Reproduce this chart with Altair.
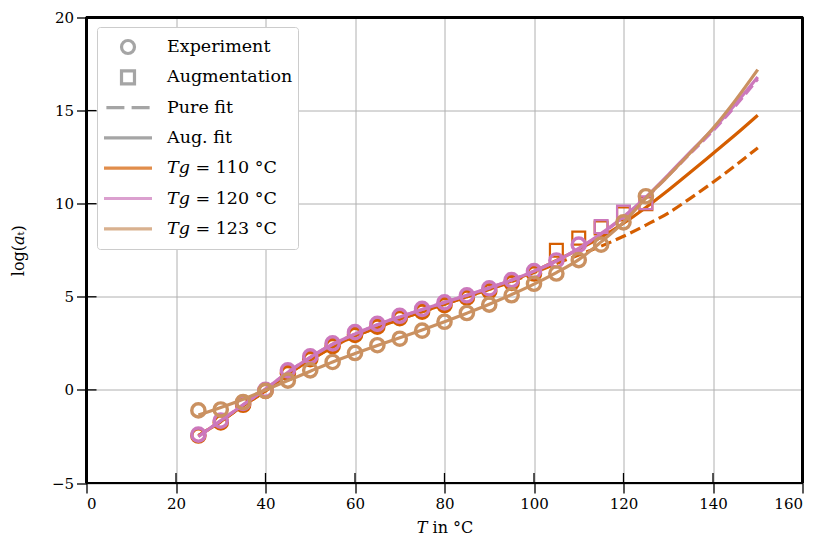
import altair as alt
import pandas as pd

# ---------------- data ----------------
T_exp_110 = [25, 30, 35, 40, 45, 50, 55, 60, 65, 70, 75, 80, 85, 90, 95, 100]
exp_110 = [-2.45, -1.75, -0.8, -0.05, 0.9, 1.65, 2.35, 2.95, 3.4, 3.85, 4.2, 4.55, 4.95, 5.3, 5.75, 6.25]
T_aug_110 = [105, 110, 115, 120, 125]
aug_110 = [7.5, 8.15, 8.7, 9.45, 10.0]

T_exp_120 = [25, 30, 35, 40, 45, 50, 55, 60, 65, 70, 75, 80, 85, 90, 95, 100, 105, 110]
exp_120 = [-2.4, -1.65, -0.7, 0.0, 1.05, 1.8, 2.5, 3.1, 3.55, 3.98, 4.35, 4.7, 5.08, 5.45, 5.9, 6.38, 6.95, 7.8]
T_aug_120 = [115, 120, 125]
aug_120 = [8.77, 9.55, 10.05]

T_exp_123 = [25, 30, 35, 40, 45, 50, 55, 60, 65, 70, 75, 80, 85, 90, 95, 100, 105, 110, 115, 120, 125]
exp_123 = [-1.1, -1.05, -0.65, -0.05, 0.5, 1.05, 1.5, 1.98, 2.4, 2.75, 3.18, 3.66, 4.13, 4.58, 5.08, 5.7, 6.25, 6.97, 7.8, 9.0, 10.4]

T_fit = [25, 30, 35, 40, 45, 50, 55, 60, 65, 70, 75, 80, 85, 90, 95, 100, 105, 110, 115, 120, 125, 130, 135, 140, 145, 150]
fit_aug_110 = [-2.45, -1.7, -0.85, -0.05, 0.85, 1.6, 2.3, 2.9, 3.35, 3.8, 4.2, 4.6, 5.0, 5.4, 5.85, 6.35, 6.95, 7.55, 8.2, 8.95, 9.8, 10.72, 11.7, 12.7, 13.7, 14.75]
fit_pure_110 = [-2.45, -1.7, -0.85, -0.05, 0.85, 1.6, 2.3, 2.9, 3.35, 3.8, 4.2, 4.6, 5.0, 5.4, 5.82, 6.3, 6.78, 7.25, 7.72, 8.25, 8.85, 9.5, 10.3, 11.15, 12.05, 13.0]
fit_aug_120 = [-2.5, -1.65, -0.8, 0.05, 0.95, 1.75, 2.45, 3.0, 3.5, 3.92, 4.32, 4.7, 5.08, 5.48, 5.9, 6.38, 6.92, 7.6, 8.4, 9.3, 10.35, 11.55, 12.8, 14.0, 15.35, 16.8]
fit_pure_120 = [-2.5, -1.65, -0.8, 0.05, 0.95, 1.75, 2.45, 3.0, 3.5, 3.92, 4.32, 4.7, 5.08, 5.48, 5.9, 6.38, 6.92, 7.59, 8.38, 9.27, 10.3, 11.5, 12.72, 13.92, 15.25, 16.7]
fit_aug_123 = [-1.35, -0.95, -0.5, 0.0, 0.5, 1.0, 1.5, 1.95, 2.38, 2.8, 3.22, 3.66, 4.12, 4.6, 5.12, 5.68, 6.3, 7.0, 7.95, 9.0, 10.3, 11.5, 12.75, 14.05, 15.55, 17.2]

x_ticks = [0, 20, 40, 60, 80, 100, 120, 140, 160]
y_ticks = [-5, 0, 5, 10, 15, 20]

legend_labels = ["Experiment", "Augmentation", "Pure fit", "Aug. fit",
                 "𝑇𝑔 = 110 °C", "𝑇𝑔 = 120 °C", "𝑇𝑔 = 123 °C"]

C110 = "#D55E00"
C120 = "#CC78BC"
C123 = "#CA9161"
GRAY = "#808080"

legend_colors = [GRAY, GRAY, GRAY, GRAY, C110, C120, C123]
legend_shapes = [
    "M-0.27,0A0.27,0.27 0 1,1 0.27,0A0.27,0.27 0 1,1 -0.27,0Z",
    "M-0.27,-0.27L0.27,-0.27L0.27,0.27L-0.27,0.27Z",
    "M-0.9,0L-0.15,0M0.15,0L0.9,0",
    "M-1,0L1,0",
    "M-1,0L1,0",
    "M-1,0L1,0",
    "M-1,0L1,0",
]

W, H = 716, 465.5
FONT = "DejaVu Serif"

xs = alt.Scale(domain=[0, 160], nice=False, zero=False)
ys = alt.Scale(domain=[-5, 20], nice=False, zero=False)

x_axis = alt.Axis(values=x_ticks, title="𝑇 in °C", grid=True, gridColor="#b0b0b0", gridWidth=1,
                  tickColor="black", tickSize=10, tickWidth=1.3, domain=False,
                  labelFont=FONT, labelFontSize=15, labelColor="black", labelPadding=3,
                  titleFont=FONT, titleFontSize=16, titleFontWeight="normal", titleColor="black",
                  titlePadding=8)
y_axis = alt.Axis(values=y_ticks, title="log(𝑎ₜ)", grid=True, gridColor="#b0b0b0", gridWidth=1,
                  tickColor="black", tickSize=10, tickWidth=1.3, domain=False,
                  labelFont=FONT, labelFontSize=15, labelColor="black", labelPadding=3,
                  titleFont=FONT, titleFontSize=16, titleFontWeight="normal", titleColor="black",
                  titlePadding=25)


def pts(T, v):
    return pd.DataFrame({"T": T, "v": v})


def circles(T, v, color):
    return alt.Chart(pts(T, v)).mark_point(shape="circle", filled=False, size=175,
                                           strokeWidth=3.4, color=color, opacity=1).encode(
        x=alt.X("T:Q", scale=xs, axis=x_axis), y=alt.Y("v:Q", scale=ys, axis=y_axis))


def squares(T, v, color):
    return alt.Chart(pts(T, v)).mark_point(shape="square", filled=False, size=165,
                                           strokeWidth=2.2, color=color, opacity=1).encode(
        x=alt.X("T:Q", scale=xs, axis=x_axis), y=alt.Y("v:Q", scale=ys, axis=y_axis))


def line(T, v, color, dashed=False):
    kw = dict(color=color, strokeWidth=3.2, clip=True, interpolate="monotone")
    if dashed:
        kw["strokeDash"] = [11, 5]
    return alt.Chart(pts(T, v)).mark_line(**kw).encode(
        x=alt.X("T:Q", scale=xs, axis=x_axis), y=alt.Y("v:Q", scale=ys, axis=y_axis))


leg = alt.Legend(title=None, orient="none", legendX=10.5, legendY=9.5,
                 symbolSize=2304, symbolStrokeWidth=3.2, clipHeight=30, rowPadding=0.3,
                 labelOffset=13, padding=5, strokeColor="#cccccc", fillColor="white",
                 cornerRadius=3, labelFont=FONT, labelFontSize=17.5, labelColor="black",
                 labelLimit=400)

legend_df = pd.DataFrame({"entry": legend_labels})
legend_layer = alt.Chart(legend_df).mark_point(filled=False, clip=True, strokeWidth=3).encode(
    x=alt.value(-300), y=alt.value(-300),
    color=alt.Color("entry:N", scale=alt.Scale(domain=legend_labels, range=legend_colors), legend=leg),
    shape=alt.Shape("entry:N", scale=alt.Scale(domain=legend_labels, range=legend_shapes), legend=leg),
)

xt_df = pd.DataFrame({"t": x_ticks})
yt_df = pd.DataFrame({"t": y_ticks})
x_in_ticks = alt.Chart(xt_df).mark_rule(color="black", strokeWidth=1.3).encode(
    x=alt.X("t:Q", scale=xs, axis=x_axis), y=alt.value(H), y2=alt.value(H - 10))
y_in_ticks = alt.Chart(yt_df).mark_rule(color="black", strokeWidth=1.3).encode(
    y=alt.Y("t:Q", scale=ys, axis=y_axis), x=alt.value(0), x2=alt.value(10))

# plot frame (spines)
frame_top = alt.Chart(xt_df).mark_rule(color="black", strokeWidth=1.8).encode(
    x=alt.value(0), x2=alt.value(W), y=alt.value(0))
frame_bottom = alt.Chart(xt_df).mark_rule(color="black", strokeWidth=1.8).encode(
    x=alt.value(0), x2=alt.value(W), y=alt.value(H))
frame_left = alt.Chart(xt_df).mark_rule(color="black", strokeWidth=1.8).encode(
    y=alt.value(0), y2=alt.value(H), x=alt.value(0))
frame_right = alt.Chart(xt_df).mark_rule(color="black", strokeWidth=1.8).encode(
    y=alt.value(0), y2=alt.value(H), x=alt.value(W))

layers = [
    x_in_ticks, y_in_ticks,
    circles(T_exp_110, exp_110, C110), squares(T_aug_110, aug_110, C110),
    line(T_fit, fit_pure_110, C110, True), line(T_fit, fit_aug_110, C110),
    circles(T_exp_120, exp_120, C120), squares(T_aug_120, aug_120, C120),
    line(T_fit, fit_pure_120, C120, True), line(T_fit, fit_aug_120, C120),
    circles(T_exp_123, exp_123, C123),
    line(T_fit, fit_aug_123, C123),
    frame_top, frame_bottom, frame_left, frame_right,
    legend_layer,
]

chart = alt.layer(*layers).properties(
    width=W, height=H,
    autosize=alt.AutoSizeParams(type="none"),
    padding={"left": 78.5, "top": 9.5, "right": 8.5, "bottom": 53},
).configure(background="white").configure_view(stroke="black", strokeWidth=1.8)

chart.save("out.html", embed_options={"renderer": "svg", "actions": False})
